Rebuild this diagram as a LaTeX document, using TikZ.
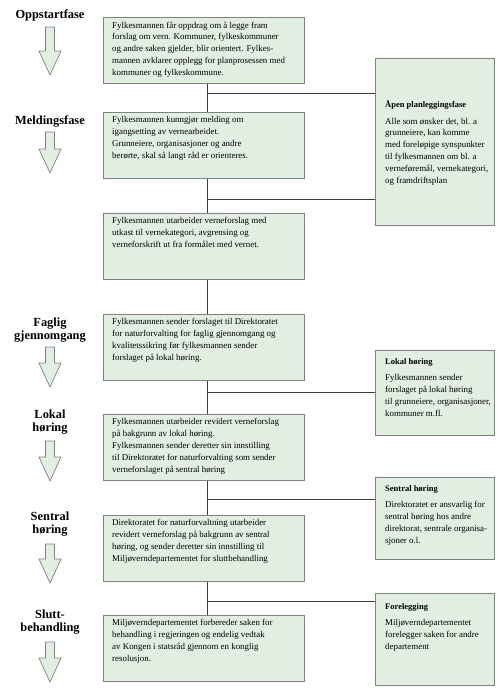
\documentclass[tikz,border=0pt]{standalone}
\usepackage{fontspec}
\setmainfont{Liberation Serif}
\usetikzlibrary{positioning}
\definecolor{boksgrunn}{RGB}{226,238,226}
\definecolor{boksramme}{RGB}{125,132,125}
\definecolor{linjefarge}{RGB}{60,60,60}
% fasepil: top y, tip y
\newcommand{\fasepil}[2]{%
  \draw[pil] (45.5,#1) -- (54.5,#1) -- (54.5,{#2-24}) -- (61,{#2-24}) -- (50,#2)
    -- (39,{#2-24}) -- (45.5,{#2-24}) -- cycle;}
\begin{document}
\begin{tikzpicture}[x=1pt,y=-1pt,
    boks/.style={draw=boksramme, fill=boksgrunn, line width=0.7pt, anchor=north west, inner sep=0pt},
    hovedboks/.style={boks, minimum width=201pt, minimum height=66pt},
    sideboks/.style={boks, minimum width=119pt},
    tekst/.style={anchor=north west, align=left, inner sep=0pt, font=\fontsize{8.9}{11.8}\selectfont},
    fase/.style={align=center, inner sep=0pt, font=\fontsize{12.4}{13.5}\selectfont\bfseries},
    pil/.style={draw=boksramme, fill=boksgrunn, line width=0.7pt},
    linje/.style={draw=linjefarge, line width=0.9pt}]
  \useasboundingbox (0,0) rectangle (500,688);

  % faser til venstre
  \node[fase] (f1) at (50,15) {Oppstartfase};
  \node[fase] (f2) at (50,122) {Meldingsfase};
  \node[fase] (f3) at (50,330) {Faglig\\gjennomgang};
  \node[fase] (f4) at (50,422) {Lokal\\høring};
  \node[fase] (f5) at (50,524) {Sentral\\høring};
  \node[fase] (f6) at (50,622) {Slutt-\\behandling};
  \fasepil{27}{75}
  \fasepil{132}{173}
  \fasepil{347}{387}
  \fasepil{441}{481}
  \fasepil{544}{583}
  \fasepil{642}{682}

  % hovedboksene
  \node[hovedboks] (b1) at (103,17) {};
  \node[hovedboks] (b2) at (103,112) {};
  \node[hovedboks] (b3) at (103,213) {};
  \node[hovedboks] (b4) at (103,314) {};
  \node[hovedboks] (b5) at (103,414) {};
  \node[hovedboks] (b6) at (103,515) {};
  \node[hovedboks] (b7) at (103,615) {};
  \node[tekst] (t1) at ([shift={(9pt,-4.5pt)}]b1.north west) {Fylkesmannen får oppdrag om å legge fram\\forslag om vern. Kommuner, fylkeskommuner\\og andre saken gjelder, blir orientert. Fylkes-\\mannen avklarer opplegg for planprosessen med\\kommuner og fylkeskommune.};
  \node[tekst] (t2) at ([shift={(9pt,-4.5pt)}]b2.north west) {Fylkesmannen kunngjør melding om\\igangsetting av vernearbeidet.\\Grunneiere, organisasjoner og andre\\berørte, skal så langt råd er orienteres.};
  \node[tekst] (t3) at ([shift={(9pt,-4.5pt)}]b3.north west) {Fylkesmannen utarbeider verneforslag med\\utkast til vernekategori, avgrensing og\\verneforskrift ut fra formålet med vernet.};
  \node[tekst] (t4) at ([shift={(9pt,-4.5pt)}]b4.north west) {Fylkesmannen sender forslaget til Direktoratet\\for naturforvalting for faglig gjennomgang og\\kvalitetssikring før fylkesmannen sender\\forslaget på lokal høring.};
  \node[tekst] (t5) at ([shift={(9pt,-4.5pt)}]b5.north west) {Fylkesmannen utarbeider revidert verneforslag\\på bakgrunn av lokal høring.\\Fylkesmannen sender deretter sin innstilling\\til Direktoratet for naturforvalting som sender\\verneforslaget på sentral høring};
  \node[tekst] (t6) at ([shift={(9pt,-4.5pt)}]b6.north west) {Direktoratet for naturforvaltning utarbeider\\revidert verneforslag på bakgrunn av sentral\\høring, og sender deretter sin innstilling til\\Miljøverndepartementet for sluttbehandling};
  \node[tekst] (t7) at ([shift={(9pt,-4.5pt)}]b7.north west) {Miljøverndepartementet forbereder saken for\\behandling i regjeringen og endelig vedtak\\av Kongen i statsråd gjennom en konglig\\resolusjon.};

  % sideboksene
  \node[sideboks, minimum height=167pt] (r1) at (375,58) {};
  \node[sideboks, minimum height=85pt] (r2) at (375,350) {};
  \node[sideboks, minimum height=82pt] (r3) at (375,477) {};
  \node[sideboks, minimum height=92pt] (r4) at (375,593) {};
  \node[tekst] (s1) at (385,100) {\textbf{\fontsize{8.5}{11}\selectfont Åpen planleggingsfase}\\[5pt]Alle som ønsker det, bl. a\\grunneiere, kan komme\\med foreløpige synspunkter\\til fylkesmannen om bl. a\\verneføremål, vernekategori,\\og framdriftsplan};
  \node[tekst] (s2) at (385,358) {\textbf{\fontsize{8.5}{11}\selectfont Lokal høring}\\[5pt]Fylkesmannen sender\\forslaget på lokal høring\\til grunneiere, organisasjoner,\\kommuner m.fl.};
  \node[tekst] (s3) at (385,485) {\textbf{\fontsize{8.5}{11}\selectfont Sentral høring}\\[5pt]Direktoratet er ansvarlig for\\sentral høring hos andre\\direktorat, sentrale organisa-\\sjoner o.l.};
  \node[tekst] (s4) at (385,603) {\textbf{\fontsize{8.5}{11}\selectfont Forelegging}\\[5pt]Miljøverndepartementet\\forelegger saken for andre\\departement};

  % forbindelser
  \coordinate (k1) at (207,93);
  \coordinate (k2) at (207,199);
  \coordinate (k3) at (207,392);
  \coordinate (k4) at (207,499);
  \coordinate (k5) at (207,601);
  \draw[linje] (b1.south -| k1) -- (b2.north -| k1);
  \draw[linje] (b2.south -| k1) -- (b3.north -| k1);
  \draw[linje] (b3.south -| k1) -- (b4.north -| k1);
  \draw[linje] (b4.south -| k1) -- (b5.north -| k1);
  \draw[linje] (b5.south -| k1) -- (b6.north -| k1);
  \draw[linje] (b6.south -| k1) -- (b7.north -| k1);
  \draw[linje] (k1) -- (k1 -| r1.west);
  \draw[linje] (k2) -- (k2 -| r1.west);
  \draw[linje] (k3) -- (k3 -| r2.west);
  \draw[linje] (k4) -- (k4 -| r3.west);
  \draw[linje] (k5) -- (k5 -| r4.west);
\end{tikzpicture}
\end{document}
